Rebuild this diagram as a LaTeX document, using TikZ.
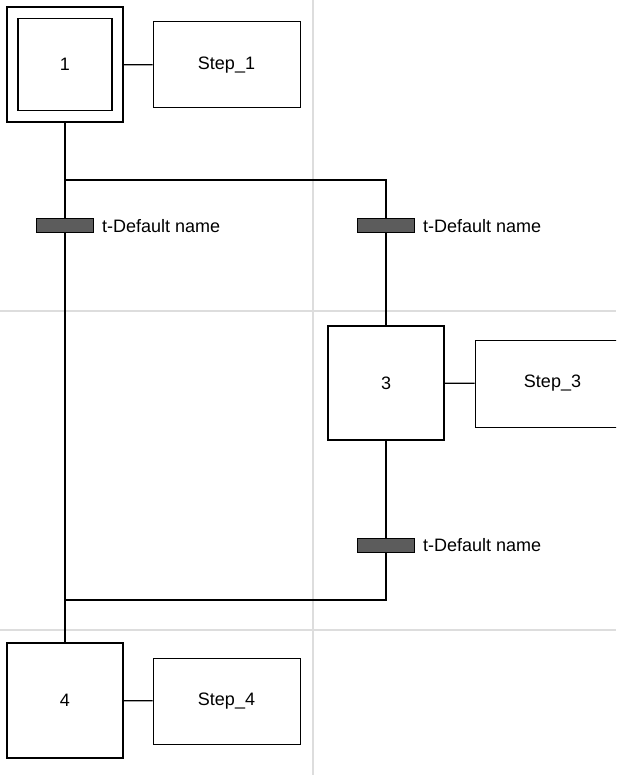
\documentclass[tikz,border=0pt]{standalone}
\usepackage{fontspec}
\setmainfont{Liberation Sans}
\usepackage{tikz}
\newcommand{\grafcetfont}{\fontsize{18}{21}\selectfont}
\definecolor{tdark}{RGB}{92,92,92}
\definecolor{gridgray}{RGB}{221,221,221}
\tikzset{
  gstep/.style={rectangle, draw=black, line width=2pt, minimum width=116pt, minimum height=115pt, inner sep=0pt, font=\grafcetfont},
  ginner/.style={rectangle, draw=black, line width=1.5pt, minimum width=94pt, minimum height=92pt, inner sep=0pt, font=\grafcetfont},
  gaction/.style={rectangle, draw=black, line width=1pt, minimum width=147pt, minimum height=86pt, inner sep=0pt, font=\grafcetfont},
  gtrans/.style={rectangle, draw=black, fill=tdark, line width=1pt, minimum width=57pt, minimum height=14pt, inner sep=0pt},
  glabel/.style={font=\grafcetfont, inner sep=0pt},
  glink/.style={line width=2pt, black},
  alink/.style={line width=1.2pt, black},
  gridline/.style={line width=1.5pt, gridgray}
}

\begin{document}
\begin{tikzpicture}[x=1pt, y=-1pt, label distance=8pt]
\useasboundingbox (0,0) rectangle (616,775);
\clip (0,0) rectangle (616,775);
% grid
\draw[gridline] (313,0) -- (313,775);
\draw[gridline] (0,311) -- (616,311);
\draw[gridline] (0,630) -- (616,630);
% steps and actions
\node[gstep] (s1) at (65,64.5) {};
\node[ginner] (s1in) at (s1.center) {1};
\node[gaction] (a1) at (226.5,65) {Step\_1};
\node[gstep, minimum height=114pt] (s3) at (386,383) {3};
\node[gaction, minimum width=155pt, minimum height=87pt] (a3) at (552.5,383.5) {Step\_3};
\node[gstep] (s4) at (65,700.5) {4};
\node[gaction] (a4) at (226.5,701) {Step\_4};
% transitions
\node[gtrans, label={[glabel]right:t-Default name}] (t1) at (65,226) {};
\node[gtrans, label={[glabel]right:t-Default name}] (t2) at (386,226) {};
\node[gtrans, label={[glabel]right:t-Default name}] (t3) at (386,545) {};
\coordinate (b1) at (65,180);
\coordinate (j1) at (65,600);
% links
\draw[glink] (s1) -- (t1);
\draw[glink] (t1) -- (s4);
\draw[glink] (b1) -| (t2);
\draw[glink] (t2) -- (s3);
\draw[glink] (s3) -- (t3);
\draw[glink] (t3) |- (j1);
\draw[alink] (s1) -- (a1);
\draw[alink] (s3) -- (a3);
\draw[alink] (s4) -- (a4);
\end{tikzpicture}
\end{document}
